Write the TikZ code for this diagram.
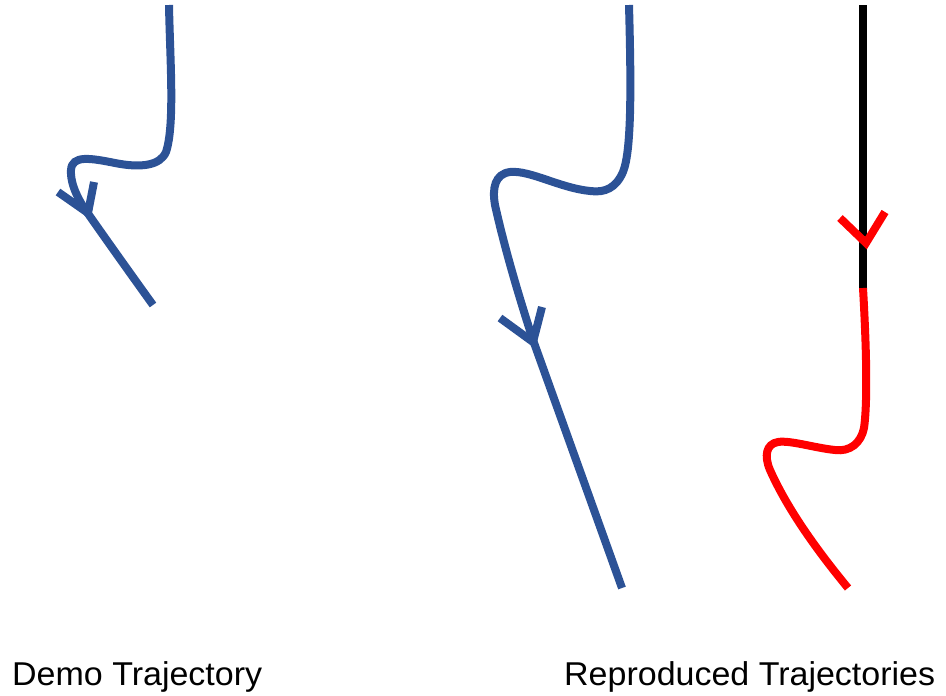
\documentclass[tikz,border=0pt]{standalone}
\usepackage{fontspec}
\setmainfont{Liberation Sans}
\definecolor{trajblue}{RGB}{44,82,150}
\definecolor{trajred}{RGB}{255,0,0}
\begin{document}
\begin{tikzpicture}[x=1pt,y=-1pt,
  traj/.style={line width=8pt},
  tip/.style={line width=8pt,line join=miter},
  lbl/.style={anchor=base west,inner sep=0pt,font=\fontsize{33}{38}\selectfont}]
\useasboundingbox (0,0) rectangle (946,696);
% Demo trajectory
\coordinate (d0) at (169,5);
\coordinate (d1) at (153,305);
\draw[traj,trajblue] (d0) .. controls (170,60) and (175,125) .. (166,152)
  .. controls (160,166) and (140,168) .. (115,163)
  .. controls (90,158) and (72,155) .. (71,170)
  .. controls (70,185) and (80,203) .. (89,215)
  .. controls (110,245) and (135,280) .. (d1);
\draw[tip,trajblue] (58,192) -- (88,213) -- (94,182);
% Reproduced (blue)
\coordinate (m0) at (629,5);
\coordinate (m1) at (622,588);
\draw[traj,trajblue] (m0) .. controls (631,80) and (632,150) .. (623,172)
  .. controls (616,188) and (605,193) .. (590,191)
  .. controls (560,188) and (530,170) .. (510,172)
  .. controls (495,174) and (492,188) .. (495,205)
  .. controls (505,250) and (520,300) .. (533,340) -- (m1);
\draw[tip,trajblue] (500,318) -- (533,342) -- (542,307);
% Reproduced (black + red)
\coordinate (r0) at (863,5);
\coordinate (r1) at (863,288);
\coordinate (r2) at (848,588);
\draw[traj,black] (r0) -- (r1);
\draw[traj,trajred] (r1) .. controls (866,340) and (868,400) .. (864,428)
  .. controls (861,443) and (850,452) .. (835,450)
  .. controls (815,448) and (790,440) .. (778,442)
  .. controls (766,444) and (764,456) .. (770,470)
  .. controls (790,515) and (825,560) .. (r2);
\draw[tip,trajred] (840,218) -- (866,243) -- (885,212);
% Labels
\node[lbl] (demo) at (12,685) {\scalebox{1.03}[1]{Demo Trajectory}};
\node[lbl] (repr) at (564,685) {\scalebox{1.03}[1]{Reproduced Trajectories}};
\end{tikzpicture}
\end{document}
